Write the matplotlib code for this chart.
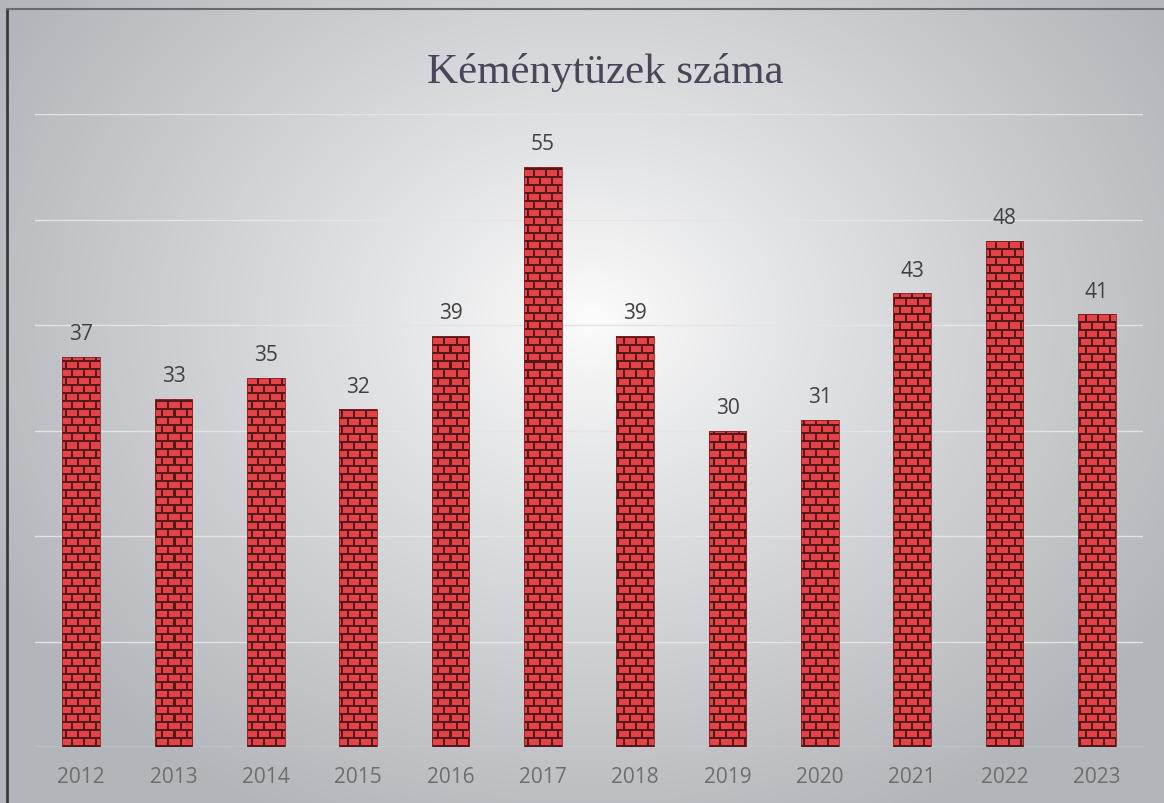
import numpy as np
import matplotlib.pyplot as plt
from matplotlib.lines import Line2D

years = ['2012', '2013', '2014', '2015', '2016', '2017',
         '2018', '2019', '2020', '2021', '2022', '2023']
fires = [37, 33, 35, 32, 39, 55, 39, 30, 31, 43, 48, 41]
title = 'Kéménytüzek száma'

W, H = 1164, 804
fig = plt.figure(figsize=(W / 100, H / 100), dpi=100)

# radial grey background, light in the middle
bg = fig.add_axes([0, 0, 1, 1])
yy, xx = np.mgrid[0:H, 0:W]
r = np.sqrt(((xx - 590) / 680.0) ** 2 + ((yy - 320) / 560.0) ** 2)
r = np.clip(r, 0, 1)
base = np.array([0.70, 0.71, 0.73])
light = np.array([0.99, 0.99, 0.99])
img = light + (base - light) * r[..., None] ** 0.9
bg.imshow(img, aspect='auto', extent=[0, 1, 0, 1], origin='upper')
bg.set_xlim(0, 1)
bg.set_ylim(0, 1)
bg.axis('off')
# dark frame on the left and top
fig.add_artist(Line2D([7 / W, 7 / W], [0, 1 - 10 / H], color='#3a3a3a', lw=2))
fig.add_artist(Line2D([7 / W, 1], [1 - 10 / H, 1 - 10 / H], color='#6a6a6a', lw=1.5))

ax = fig.add_axes([35 / W, 1 - 748 / H, (1143 - 35) / W, (748 - 115) / H])
ax.patch.set_alpha(0)
x = np.arange(len(years))
ax.set_xlim(-0.5, len(years) - 0.5)
ax.set_ylim(0, 60)
ax.set_yticks(np.arange(0, 61, 10))
ax.yaxis.grid(True, color='#e4e4e4', lw=1)
ax.set_axisbelow(True)
for s in ax.spines.values():
    s.set_visible(False)
ax.tick_params(left=False, labelleft=False, bottom=False)

bars = ax.bar(x, fires, width=0.41, color='#d83038', zorder=2)

# brick texture in pixel units over the whole axes
pw, ph = 1108, 633
tex = np.zeros((ph, pw, 3))
brick = np.array([0.90, 0.26, 0.28])
mortar = np.array([0.32, 0.10, 0.10])
tex[:] = brick
row_h, brick_w = 8, 12
for rr in range(0, ph, row_h):
    tex[rr:rr + 2] = mortar
    off = 0 if (rr // row_h) % 2 == 0 else brick_w // 2
    for cc in range(off, pw, brick_w):
        tex[rr:rr + row_h, cc:cc + 2] = mortar
tex = tex[::-1]
for b in bars:
    im = ax.imshow(tex, extent=[-0.5, len(years) - 0.5, 0, 60], origin='upper',
                   aspect='auto', zorder=3, interpolation='nearest')
    im.set_clip_path(b)
    b.set_edgecolor('#8a2020')
    b.set_linewidth(0.6)
    b.set_facecolor('none')
    b.set_zorder(4)

for xi, v in zip(x, fires):
    ax.annotate(str(v), xy=(xi, v), xytext=(0, 9), textcoords='offset points',
                ha='center', va='bottom', fontsize=15, color='#404040',
                family='Open Sans')

ax.set_xticks(x)
ax.set_xticklabels(years, fontsize=15, color='#6e6e6e', family='Open Sans')
ax.tick_params(axis='x', pad=10)

fig.text(605 / W, 1 - 72 / H, title, ha='center', va='center',
         fontsize=31, color='#4a4658', family='Liberation Serif')

fig.savefig('out.png', dpi=100)
